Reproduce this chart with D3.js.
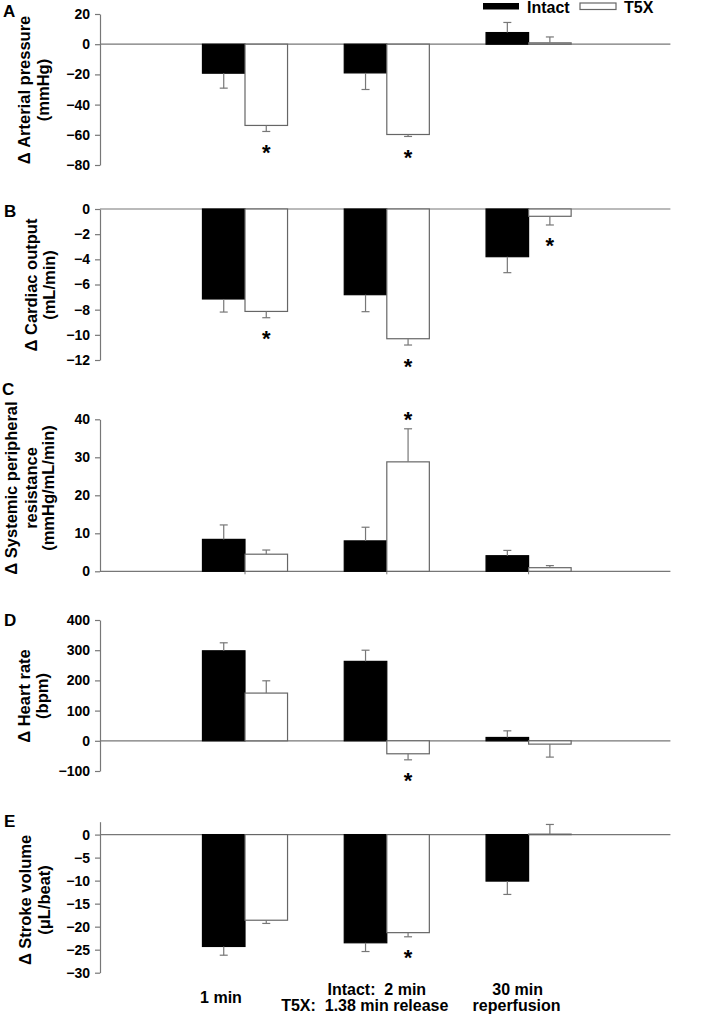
<!DOCTYPE html>
<html><head><meta charset="utf-8">
<script src="https://cdn.jsdelivr.net/npm/d3@7"></script>
<style>body{margin:0;background:#fff}svg{display:block}</style>
</head><body>
<script>
// ---------- DATA ----------
const groups = ["1 min", "Intact: 2 min / T5X: 1.38 min release", "30 min reperfusion"];
const seriesNames = ["Intact", "T5X"];

const pressureIntact = [-19.2, -19.0, 7.7];
const pressureIntactErr = [9.9, 11.0, 6.7];
const pressureT5X = [-53.8, -59.8, 0.9];
const pressureT5XErr = [4.0, 1.3, 3.9];
const pressureStars = [0, 1];
const pressureTicks = [20, 0, -20, -40, -60, -80];

const cardiacIntact = [-7.15, -6.81, -3.79];
const cardiacIntactErr = [1.04, 1.35, 1.27];
const cardiacT5X = [-8.14, -10.31, -0.58];
const cardiacT5XErr = [0.5, 0.5, 0.69];
const cardiacStars = [0, 1, 2];
const cardiacTicks = [0, -2, -4, -6, -8, -10, -12];

const resistIntact = [8.4, 8.0, 4.1];
const resistIntactErr = [3.8, 3.6, 1.4];
const resistT5X = [4.5, 28.8, 0.95];
const resistT5XErr = [1.1, 8.7, 0.55];
const resistStars = [1];
const resistTicks = [40, 30, 20, 10, 0];

const heartIntact = [298, 263, 11];
const heartIntactErr = [26.5, 37, 22];
const heartT5X = [158, -43, -11];
const heartT5XErr = [40.7, 20, 43];
const heartStars = [1];
const heartTicks = [400, 300, 200, 100, 0, -100];

const strokeIntact = [-24.3, -23.5, -10.1];
const strokeIntactErr = [1.9, 1.9, 2.9];
const strokeT5X = [-18.6, -21.3, 0.1];
const strokeT5XErr = [0.7, 0.9, 2.1];
const strokeStars = [1];
const strokeTicks = [0, -5, -10, -15, -20, -25, -30];

const titlesA = ["\u0394 Arterial pressure", "(mmHg)"];
const titlesB = ["\u0394 Cardiac output", "(mL/min)"];
const titlesC = ["\u0394 Systemic peripheral", "resistance", "(mmHg/mL/min)"];
const titlesD = ["\u0394 Heart rate", "(bpm)"];
const titlesE = ["\u0394 Stroke volume", "(\u03bcL/beat)"];

const panels = [
  {letter:"A", intact:pressureIntact, intactErr:pressureIntactErr, t5x:pressureT5X, t5xErr:pressureT5XErr, stars:pressureStars, ticks:pressureTicks, domain:[-80,20], titles:titlesA},
  {letter:"B", intact:cardiacIntact, intactErr:cardiacIntactErr, t5x:cardiacT5X, t5xErr:cardiacT5XErr, stars:cardiacStars, ticks:cardiacTicks, domain:[-12,0], titles:titlesB},
  {letter:"C", intact:resistIntact, intactErr:resistIntactErr, t5x:resistT5X, t5xErr:resistT5XErr, stars:resistStars, ticks:resistTicks, domain:[0,40], titles:titlesC},
  {letter:"D", intact:heartIntact, intactErr:heartIntactErr, t5x:heartT5X, t5xErr:heartT5XErr, stars:heartStars, ticks:heartTicks, domain:[-100,400], titles:titlesD},
  {letter:"E", intact:strokeIntact, intactErr:strokeIntactErr, t5x:strokeT5X, t5xErr:strokeT5XErr, stars:strokeStars, ticks:strokeTicks, domain:[-30,2.8], titles:titlesE},
];

// ---------- LAYOUT ----------
const W = 709, H = 1015;
const FONT = "'Liberation Sans', Arial, Helvetica, sans-serif";
const gray = "#777";
const axisX = 100;
const layout = [
  {y0:165,   y1:14,    titleX:[30,49],    titleY:90,  letter:[3,17],  groundTicks:false},
  {y0:360,   y1:209,   titleX:[37,55],    titleY:285, letter:[4,217], groundTicks:false},
  {y0:571.3, y1:419.3, titleX:[17,37,54], titleY:488, letter:[2,395], groundTicks:true},
  {y0:771,   y1:620,   titleX:[30,48],    titleY:696, letter:[4,626], groundTicks:false},
  {y0:972.7, y1:821.7, titleX:[31,50],    titleY:900, letter:[4,827], groundTicks:false},
];

const svg = d3.select("body").append("svg").attr("width", W).attr("height", H)
  .style("font-family", FONT);

const x = d3.scaleLinear().domain([0, 4]).range([103.2, 670.4]);
const barW = 0.3;

panels.forEach((p, i) => {
  const L = layout[i];
  const y = d3.scaleLinear().domain(p.domain).range([L.y0, L.y1]);
  const g = svg.append("g");

  // zero line
  g.append("line").attr("x1", axisX).attr("x2", x(4))
    .attr("y1", y(0)).attr("y2", y(0)).attr("stroke", gray).attr("stroke-width", 1.2);

  if (L.groundTicks) {
    groups.forEach((_, gi) => {
      g.append("line").attr("x1", x(gi+1)).attr("x2", x(gi+1))
        .attr("y1", y(0)).attr("y2", y(0)+3).attr("stroke", gray).attr("stroke-width", 1);
    });
  }

  // y axis
  const ax = d3.axisLeft(y).tickValues(p.ticks).tickSize(5).tickPadding(5).tickSizeOuter(0);
  const ag = g.append("g").attr("transform", `translate(${axisX},0)`).call(ax);
  ag.select(".domain").attr("stroke", gray).attr("stroke-width", 1.2);
  ag.selectAll(".tick line").attr("stroke", gray).attr("stroke-width", 1.2);
  ag.selectAll(".tick text").attr("fill", "#000").style("font-size", "14px")
    .style("font-weight", "bold").style("font-family", FONT);

  // bars
  const series = [
    {vals:p.intact, errs:p.intactErr, off:-barW, fill:"#000", stroke:"#000"},
    {vals:p.t5x, errs:p.t5xErr, off:0, fill:"#fff", stroke:"#666"},
  ];
  series.forEach(s => {
    s.vals.forEach((v, gi) => {
      const x0 = x(gi + 1 + s.off), x1 = x(gi + 1 + s.off + barW);
      g.append("rect").attr("x", x0).attr("width", x1 - x0)
        .attr("y", Math.min(y(v), y(0))).attr("height", Math.abs(y(v) - y(0)))
        .attr("fill", s.fill).attr("stroke", s.stroke).attr("stroke-width", 1.2);
    });
  });
  // error bars
  series.forEach(s => {
    s.vals.forEach((v, gi) => {
      const cx = x(gi + 1 + s.off + barW / 2);
      const end = v + (v < 0 ? -1 : 1) * s.errs[gi];
      g.append("line").attr("x1", cx).attr("x2", cx).attr("y1", y(v)).attr("y2", y(end))
        .attr("stroke", gray).attr("stroke-width", 1.2);
      g.append("line").attr("x1", cx - 4).attr("x2", cx + 4).attr("y1", y(end)).attr("y2", y(end))
        .attr("stroke", gray).attr("stroke-width", 1.2);
    });
  });
  // stars (on T5X)
  p.stars.forEach(gi => {
    const v = p.t5x[gi];
    const end = v + (v < 0 ? -1 : 1) * p.t5xErr[gi];
    const cx = x(gi + 1 + barW / 2);
    const cy = y(end) + (v < 0 ? 16 : -14);
    g.append("text").attr("x", cx).attr("y", cy + 12.5).attr("text-anchor", "middle")
      .style("font-size", "22px").style("font-weight", "bold").text("*");
  });

  // panel letter
  g.append("text").attr("x", L.letter[0]).attr("y", L.letter[1])
    .style("font-size", "17px").style("font-weight", "bold").text(p.letter);

  // y titles
  p.titles.forEach((t, li) => {
    g.append("text")
      .attr("transform", `translate(${L.titleX[li]},${L.titleY}) rotate(-90)`)
      .attr("text-anchor", "middle")
      .style("font-size", "16.5px").style("font-weight", "bold").text(t);
  });
});

// x labels
const xLabelLines = [
  [{t:"1 min", dx:-24, y:1003}],
  [{t:"Intact:  2 min", dx:-10, y:995}, {t:"T5X:  1.38 min release", dx:-22, y:1011}],
  [{t:"30 min", dx:-11, y:995}, {t:"reperfusion", dx:-12, y:1011}],
];
xLabelLines.forEach((lines, gi) => {
  lines.forEach(l => {
    svg.append("text").attr("x", x(gi + 1) + l.dx).attr("y", l.y)
      .attr("text-anchor", "middle").attr("xml:space", "preserve")
      .style("white-space", "pre")
      .style("font-size", "16px").style("font-weight", "bold").text(l.t);
  });
});

// legend
const leg = svg.append("g");
leg.append("rect").attr("x", 483).attr("y", 3).attr("width", 36).attr("height", 6.5).attr("fill", "#000");
leg.append("text").attr("x", 527).attr("y", 12.5).style("font-size", "16px").style("font-weight", "bold").text(seriesNames[0]);
leg.append("rect").attr("x", 580).attr("y", 3).attr("width", 36).attr("height", 6.5)
  .attr("fill", "#fff").attr("stroke", "#666").attr("stroke-width", 1.2);
leg.append("text").attr("x", 624).attr("y", 12.5).style("font-size", "16px").style("font-weight", "bold").text(seriesNames[1]);
</script>
</body></html>
